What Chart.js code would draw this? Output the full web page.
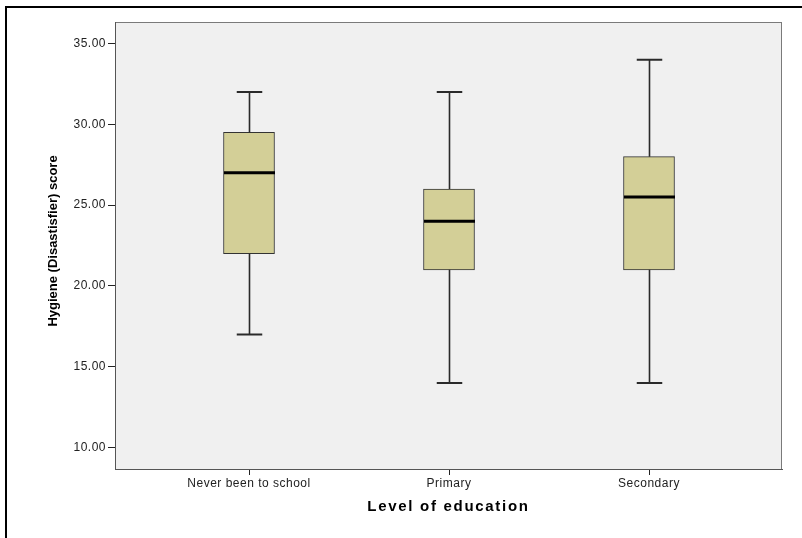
<!DOCTYPE html>
<html>
<head>
<meta charset="utf-8">
<script src="https://cdn.jsdelivr.net/npm/chart.js@4"></script>
<style>
  html, body { margin: 0; padding: 0; background: #fff; overflow: hidden; }
  #wrap { position: relative; width: 802px; height: 538px; }
</style>
</head>
<body>
<div id="wrap"><canvas id="c" width="802" height="538"></canvas></div>
<script>
// Hygiene (disastisfier) score by level of education — box plot summary
const categories = ['Never been to school', 'Primary', 'Secondary'];
const whiskerLow  = [17, 14, 14];
const quartile1   = [22, 21, 21];
const medians     = [27, 24, 25.5];
const quartile3   = [29.5, 26, 28];
const whiskerHigh = [32, 32, 34];
const yTickValues = [10, 15, 20, 25, 30, 35];
const yTickLabels = ['10.00', '15.00', '20.00', '25.00', '30.00', '35.00'];
const positions   = [1, 2, 3];

const FONT = "'Liberation Sans', Arial, sans-serif";

// Plot background, plot frame and the outer page frame
const framePlugin = {
  id: 'frames',
  beforeDraw(chart) {
    const { ctx, chartArea: a } = chart;
    ctx.save();
    ctx.fillStyle = '#f0f0f0';
    ctx.fillRect(a.left, a.top, a.right - a.left, a.bottom - a.top);
    ctx.strokeStyle = '#7a7a7a';
    ctx.lineWidth = 1;
    ctx.strokeRect(a.left + 0.5, a.top + 0.5, a.right - a.left - 1, a.bottom - a.top);
    ctx.strokeStyle = '#000';
    ctx.lineWidth = 2;
    ctx.beginPath();
    ctx.moveTo(6, chart.height);
    ctx.lineTo(6, 7);
    ctx.lineTo(chart.width, 7);
    ctx.stroke();
    ctx.restore();
    ctx.letterSpacing = '0.5px';
  }
};

// Whiskers, caps and median lines, placed through the chart scales
const boxPlugin = {
  id: 'boxParts',
  afterDatasetsDraw(chart) {
    const { ctx } = chart;
    const xs = chart.scales.x, ys = chart.scales.y;
    const meta = chart.getDatasetMeta(0);
    ctx.save();
    positions.forEach((p, i) => {
      const cx = Math.round(xs.getPixelForValue(p)) + 0.5;
      const bw = meta.data[i].width;
      const cap = bw / 2;
      ctx.strokeStyle = '#2a2a2a';
      ctx.lineWidth = 1.6;
      ctx.beginPath();
      ctx.moveTo(cx, ys.getPixelForValue(quartile3[i]));
      ctx.lineTo(cx, ys.getPixelForValue(whiskerHigh[i]));
      ctx.moveTo(cx, ys.getPixelForValue(quartile1[i]));
      ctx.lineTo(cx, ys.getPixelForValue(whiskerLow[i]));
      ctx.stroke();
      ctx.lineWidth = 2;
      ctx.beginPath();
      [whiskerHigh[i], whiskerLow[i]].forEach(v => {
        const y = ys.getPixelForValue(v);
        ctx.moveTo(cx - cap / 2, y);
        ctx.lineTo(cx + cap / 2, y);
      });
      ctx.stroke();
      ctx.strokeStyle = '#000';
      ctx.lineWidth = 3;
      ctx.beginPath();
      const my = ys.getPixelForValue(medians[i]);
      ctx.moveTo(cx - bw / 2, my);
      ctx.lineTo(cx + bw / 2, my);
      ctx.stroke();
    });
    ctx.restore();
  }
};

// Axis titles
const titlePlugin = {
  id: 'axisTitles',
  afterDraw(chart) {
    const { ctx, chartArea: a } = chart;
    ctx.save();
    ctx.fillStyle = '#000';
    ctx.textAlign = 'center';
    ctx.textBaseline = 'middle';
    ctx.letterSpacing = '1.7px';
    ctx.font = `bold 15px ${FONT}`;
    ctx.fillText('Level of education', (a.left + a.right) / 2, 507);
    ctx.letterSpacing = '0px';
    ctx.font = `bold 13px ${FONT}`;
    ctx.translate(53, 241);
    ctx.rotate(-Math.PI / 2);
    ctx.fillText('Hygiene (Disastisfier) score', 0, 0);
    ctx.restore();
  }
};

new Chart(document.getElementById('c'), {
  type: 'bar',
  data: {
    datasets: [{
      data: positions.map((p, i) => ({ x: p, y: [quartile1[i], quartile3[i]] })),
      backgroundColor: '#d3cf97',
      borderColor: '#333',
      borderWidth: 1,
      borderSkipped: false,
      barThickness: 51
    }]
  },
  options: {
    responsive: false,
    animation: false,
    events: [],
    layout: { padding: { left: 0, top: 22, right: 20, bottom: 0 } },
    plugins: { legend: { display: false }, tooltip: { enabled: false } },
    scales: {
      x: {
        type: 'linear',
        offset: false,
        min: 0.33,
        max: 3.665,
        afterBuildTicks: s => { s.ticks = positions.map(v => ({ value: v })); },
        afterFit: s => { s.height = 69; },
        ticks: {
          callback: (v, i) => categories[i],
          color: '#222',
          font: { family: FONT, size: 12 },
          padding: 1,
          maxRotation: 0,
          autoSkip: false
        },
        grid: { offset: false, drawOnChartArea: false, drawTicks: true, tickLength: 6, color: '#222' },
        border: { display: true, color: '#555', width: 1 }
      },
      y: {
        min: 8.68,
        max: 36.33,
        afterBuildTicks: s => { s.ticks = yTickValues.map(v => ({ value: v })); },
        afterFit: s => { s.width = 115; },
        ticks: {
          callback: (v, i) => yTickLabels[i],
          color: '#222',
          font: { family: FONT, size: 12 },
          padding: 2
        },
        grid: { drawOnChartArea: false, drawTicks: true, tickLength: 7, color: '#222' },
        border: { display: true, color: '#555', width: 1 }
      }
    }
  },
  plugins: [framePlugin, boxPlugin, titlePlugin]
});
</script>
</body>
</html>
